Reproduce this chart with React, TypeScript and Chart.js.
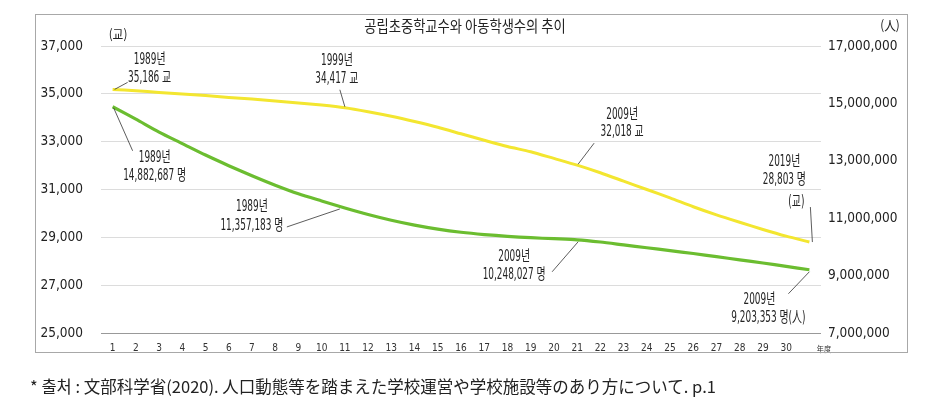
import React, { useEffect, useRef } from "react";
import { Chart, registerables } from "chart.js";

Chart.register(...registerables);

const xLabels = ["1","2","3","4","5","6","7","8","9","10","11","12","13","14","15","16","17","18","19","20","21","22","23","24","25","26","27","28","29","30",""];

const schoolCounts = [35186, 35130, 35060, 34990, 34930, 34850, 34780, 34700, 34620, 34530, 34417, 34250, 34060, 33840, 33600, 33330, 33060, 32800, 32580, 32300, 32018, 31700, 31350, 31000, 30650, 30280, 29940, 29630, 29330, 29050, 28803];

const studentCounts = [14882687, 14450000, 14000000, 13600000, 13200000, 12830000, 12480000, 12150000, 11850000, 11600000, 11357183, 11130000, 10930000, 10760000, 10620000, 10510000, 10430000, 10370000, 10320000, 10285000, 10248027, 10170000, 10070000, 9970000, 9870000, 9770000, 9660000, 9550000, 9440000, 9320000, 9203353];

const leftTicks = [25000, 27000, 29000, 31000, 33000, 35000, 37000];
const rightTicks = [7000000, 9000000, 11000000, 13000000, 15000000, 17000000];

const titleText = "공립초중학교수와 아동학생수의 추이";
const leftUnit = "(교)";
const rightUnit = "(人)";
const xUnit = "年度";
const footerText = "* 출처 : 文部科学省(2020). 人口動態等を踏まえた学校運営や学校施設等のあり方について. p.1";

const annotations = [
  { ds: 0, idx: 0, lines: ["1989년", "35,186 교"], tx: 37, ty: [-29, -11], lx: 15, ly: -7, ex: 2, ey: 0 },
  { ds: 0, idx: 10, lines: ["1999년", "34,417 교"], tx: -8, ty: [-47, -29], lx: -5, ly: -18, ex: 0, ey: -1 },
  { ds: 0, idx: 20, lines: ["2009년", "32,018 교"], tx: 45, ty: [-50, -33], lx: 17, ly: -22, ex: 1, ey: -1 },
  { ds: 0, idx: 30, lines: ["2019년", "28,803 명", "(교)"], tx: -25, ty: [-80, -62, -40], lx: 1, ly: -35, ex: 3, ey: 0, txs: [-25, -25, -13] },
  { ds: 1, idx: 0, lines: ["1989년", "14,882,687 명"], tx: 42, ty: [51, 69], lx: 20, ly: 44, ex: 1, ey: 1 },
  { ds: 1, idx: 10, lines: ["1989년", "11,357,183 명"], tx: -93, ty: [-1, 18], lx: -58, ly: 19, ex: -5, ey: 1 },
  { ds: 1, idx: 20, lines: ["2009년", "10,248,027 명"], tx: -63, ty: [17, 35], lx: -25, ly: 32, ex: 1, ey: 2 },
  { ds: 1, idx: 30, lines: ["2009년", "9,203,353 명(人)"], tx: -50, ty: [30, 48], lx: -21, ly: 24, ex: 0, ey: 2, txs: [-50, -41] },
];

const COND = '"DejaVu Sans Condensed", "Noto Sans CJK KR", sans-serif';

function drawScaled(ctx: CanvasRenderingContext2D, text: string, x: number, y: number, size: number, sx: number, align: CanvasTextAlign, font: string, color: string) {
  ctx.save();
  ctx.translate(x, y);
  ctx.scale(sx, 1);
  ctx.font = `${size}px ${font}`;
  ctx.fillStyle = color;
  ctx.textAlign = align;
  ctx.textBaseline = "middle";
  ctx.fillText(text, 0, 0);
  ctx.restore();
}

const decorPlugin = {
  id: "decor",
  afterDraw(chart: any) {
    const ctx: CanvasRenderingContext2D = chart.ctx;
    ctx.save();
    drawScaled(ctx, titleText, 465, 26, 16, 0.83, "center", '"Noto Sans CJK KR", sans-serif', "#222");
    drawScaled(ctx, leftUnit, 118, 34, 13, 0.9, "center", '"Noto Sans CJK KR", sans-serif', "#222");
    drawScaled(ctx, rightUnit, 890, 25, 13, 0.9, "center", '"Noto Sans CJK JP", sans-serif', "#222");
    const area = chart.chartArea;
    drawScaled(ctx, xUnit, area.right + 3, 349, 8, 0.9, "center", '"Noto Sans CJK JP", sans-serif', "#333");

    annotations.forEach((a) => {
      const meta = chart.getDatasetMeta(a.ds);
      const pt = meta.data[a.idx];
      const px = pt.x;
      const py = pt.y;
      ctx.strokeStyle = "#333";
      ctx.lineWidth = 0.8;
      ctx.beginPath();
      ctx.moveTo(px + a.lx, py + a.ly);
      ctx.lineTo(px + a.ex, py + a.ey);
      ctx.stroke();
      a.lines.forEach((ln, k) => {
        const dx = a.txs ? a.txs[k] : a.tx;
        drawScaled(ctx, ln, px + dx, py + a.ty[k], 15, 0.66, "center", COND, "#222");
      });
    });
    ctx.restore();
  },
};

export default function App() {
  const ref = useRef<HTMLCanvasElement | null>(null);
  useEffect(() => {
    if (!ref.current) return;
    const chart = new Chart(ref.current, {
      type: "line",
      data: {
        labels: xLabels,
        datasets: [
          {
            label: "학교수",
            data: schoolCounts,
            yAxisID: "y",
            borderColor: "#f3e630",
            borderWidth: 3,
            pointRadius: 0,
            tension: 0.25,
            fill: false,
          },
          {
            label: "학생수",
            data: studentCounts,
            yAxisID: "y1",
            borderColor: "#6bbd30",
            borderWidth: 3.2,
            pointRadius: 0,
            tension: 0.25,
            fill: false,
          },
        ],
      },
      options: {
        animation: false,
        responsive: false,
        layout: { padding: { top: 46, left: 0, right: 0, bottom: 0 } },
        plugins: {
          legend: { display: false },
          tooltip: { enabled: false },
          title: { display: false },
        },
        scales: {
          x: {
            type: "category",
            offset: true,
            grid: { display: false, drawTicks: false },
            border: { display: false },
            ticks: {
              autoSkip: false,
              maxRotation: 0,
              padding: 9,
              color: "#333",
              font: { size: 10, family: COND },
            },
            afterFit(scale: any) {
              scale.height = 80;
            },
          },
          y: {
            position: "left",
            min: leftTicks[0],
            max: leftTicks[leftTicks.length - 1],
            afterBuildTicks(scale: any) {
              scale.ticks = leftTicks.map((v) => ({ value: v }));
            },
            ticks: {
              padding: 18,
              color: "#222",
              font: { size: 13.5, family: COND },
              callback: (v: any) => Number(v).toLocaleString("en-US"),
            },
            grid: {
              drawTicks: false,
              color: (c: any) => (c.tick && c.tick.value === leftTicks[0] ? "#999" : "#dcdcdc"),
              lineWidth: 1,
            },
            border: { display: false },
            afterFit(scale: any) {
              scale.width = 101;
            },
          },
          y1: {
            position: "right",
            min: rightTicks[0],
            max: rightTicks[rightTicks.length - 1],
            afterBuildTicks(scale: any) {
              scale.ticks = rightTicks.map((v) => ({ value: v }));
            },
            ticks: {
              padding: 7,
              color: "#222",
              font: { size: 13.5, family: COND },
              callback: (v: any) => Number(v).toLocaleString("en-US"),
            },
            grid: { drawOnChartArea: false, drawTicks: false },
            border: { display: false },
            afterFit(scale: any) {
              scale.width = 111;
            },
          },
        },
      },
      plugins: [decorPlugin],
    });
    return () => chart.destroy();
  }, []);

  return (
    <div style={{ position: "absolute", left: 0, top: 0, width: 932, height: 413, background: "#fff" }}>
      <canvas ref={ref} width={932} height={413} style={{ width: 932, height: 413, display: "block" }} />
      <div
        style={{
          position: "absolute",
          left: 35,
          top: 14,
          width: 871,
          height: 337,
          border: "1.5px solid #a8a8a8",
          pointerEvents: "none",
        }}
      />
      <div
        style={{
          position: "absolute",
          left: 30,
          top: 374,
          fontFamily: '"Noto Sans CJK JP", sans-serif',
          fontSize: 16.5,
          lineHeight: "24px",
          color: "#222",
          whiteSpace: "nowrap",
        }}
      >
        {footerText}
      </div>
    </div>
  );
}
